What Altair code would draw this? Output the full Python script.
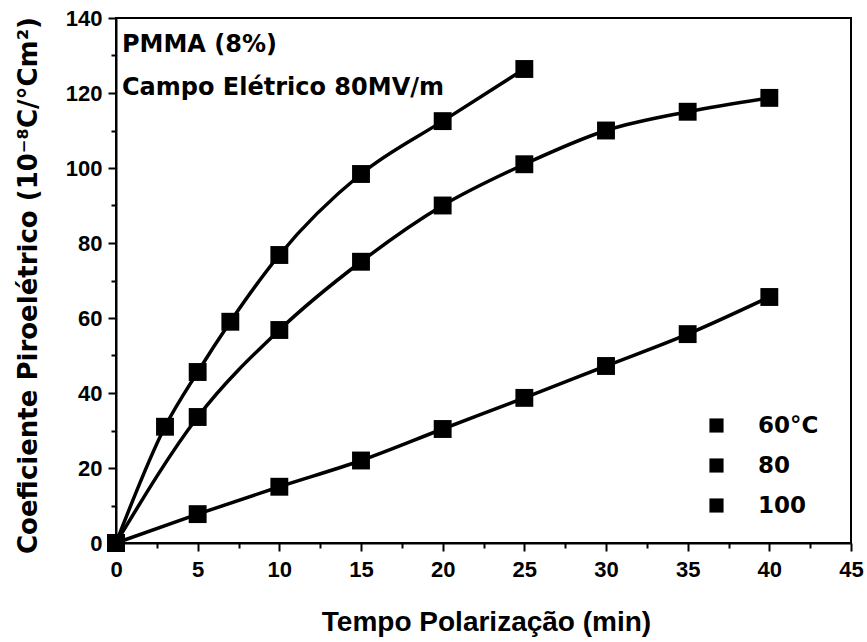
import altair as alt
import pandas as pd

# ---- data ----
series_names = ["60°C", "80", "100"]
t60 = [0, 3, 5, 7, 10, 15, 20, 25]
v60 = [0, 31, 45.6, 59, 76.8, 98.4, 112.5, 126.4]
t80 = [0, 5, 10, 15, 20, 25, 30, 35, 40]
v80 = [0, 33.6, 56.8, 75, 90, 101, 110, 115, 118.7]
t100 = [0, 5, 10, 15, 20, 25, 30, 35, 40]
v100 = [0, 7.7, 15, 22, 30.4, 38.7, 47.2, 55.7, 65.6]

x_ticks = [0, 5, 10, 15, 20, 25, 30, 35, 40, 45]
y_ticks = [0, 20, 40, 60, 80, 100, 120, 140]
x_minor = [2.5, 7.5, 12.5, 17.5, 22.5, 27.5, 32.5, 37.5, 42.5]
y_minor = [10, 30, 50, 70, 90, 110, 130]

annotations = ["PMMA (8%)", "Campo Elétrico 80MV/m"]

rows = []
for name, ts, vs in zip(series_names, [t60, t80, t100], [v60, v80, v100]):
    for t, v in zip(ts, vs):
        rows.append({"serie": name, "t": t, "v": v})
df = pd.DataFrame(rows)
one = pd.DataFrame({"k": [0]})

FONT = "Liberation Sans"
WIDE = "DejaVu Sans"
xs = alt.Scale(domain=[0, 45], nice=False, zero=False)
ys = alt.Scale(domain=[0, 140], nice=False, zero=False)

x_axis = alt.Axis(values=x_ticks, title="Tempo Polarização (min)", grid=False,
                  tickSize=8, tickWidth=2, tickColor="black", domainColor="black",
                  domainWidth=2, labelFont=FONT, labelFontSize=22, labelFontWeight="bold",
                  labelColor="black", labelPadding=8, labelFlush=False,
                  titleFont=FONT, titleFontSize=28, titleFontWeight="bold",
                  titleColor="black", titleX=370, titleY=79, titleBaseline="middle",
                  titleAlign="center", orient="bottom")
y_axis = alt.Axis(values=y_ticks, title="Coeficiente Piroelétrico (10⁻⁸C/°Cm²)", grid=False,
                  tickSize=8, tickWidth=2, tickColor="black", domainColor="black",
                  domainWidth=2, labelFont=FONT, labelFontSize=22, labelFontWeight="bold",
                  labelColor="black", labelPadding=6, labelFlush=False,
                  titleFont=WIDE, titleFontSize=26, titleFontWeight="bold",
                  titleColor="black", titleX=-88, titleY=267, titleAngle=-90,
                  titleBaseline="middle", titleAlign="center", orient="left")

lines = alt.Chart(df).mark_line(strokeWidth=3.5, interpolate="monotone", color="black").encode(
    x=alt.X("t:Q", scale=xs, axis=x_axis),
    y=alt.Y("v:Q", scale=ys, axis=y_axis),
    detail="serie:N",
)

minor = alt.Chart(df).mark_point(opacity=0).encode(
    x=alt.X("t:Q", scale=xs, axis=alt.Axis(values=x_minor, labels=False, domain=False, grid=False,
                                           tickSize=5, tickWidth=2, tickColor="black", title=None,
                                           orient="bottom")),
    y=alt.Y("v:Q", scale=ys, axis=alt.Axis(values=y_minor, labels=False, domain=False, grid=False,
                                           tickSize=5, tickWidth=2, tickColor="black", title=None,
                                           orient="left")),
)

points = alt.Chart(df).mark_point(shape="square", filled=True, size=320, opacity=1).encode(
    x=alt.X("t:Q", scale=xs, axis=None),
    y=alt.Y("v:Q", scale=ys, axis=None),
    color=alt.Color("serie:N", scale=alt.Scale(domain=series_names, range=["black", "black", "black"]),
                    legend=alt.Legend(title=None, orient="none", legendX=589, legendY=396,
                                      symbolType="square", symbolSize=200, symbolFillColor="black",
                                      symbolStrokeWidth=0, labelFont=WIDE, labelFontSize=23,
                                      labelFontWeight="bold", labelColor="black", labelOffset=30,
                                      rowPadding=16, padding=0)),
)

txt1 = alt.Chart(one).mark_text(text=annotations[0], font=WIDE, fontSize=24, fontWeight="bold",
                                align="left", baseline="middle", color="black").encode(
    x=alt.value(6), y=alt.value(27))
txt2 = alt.Chart(one).mark_text(text=annotations[1], font=WIDE, fontSize=24, fontWeight="bold",
                                align="left", baseline="middle", color="black").encode(
    x=alt.value(6), y=alt.value(70))

chart = alt.layer(lines, minor, points, txt1, txt2).resolve_axis(
    x="independent", y="independent"
).properties(
    width=735, height=525,
    autosize=alt.AutoSizeParams(type="none"),
    padding={"left": 116, "top": 18, "right": 16, "bottom": 99},
    background="white",
).configure_view(stroke="black", strokeWidth=2)

chart.save("out.html", embed_options={"renderer": "svg", "actions": False})
